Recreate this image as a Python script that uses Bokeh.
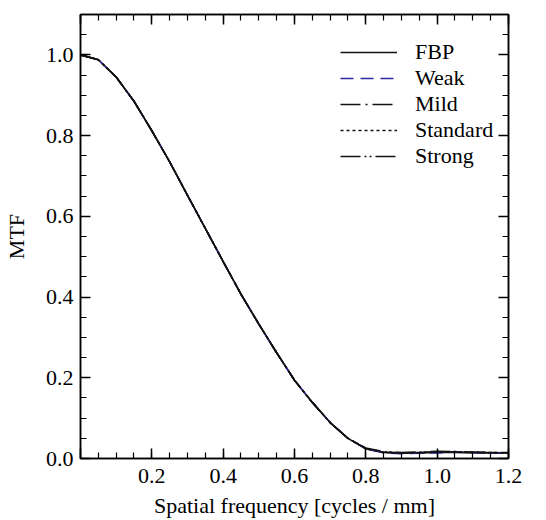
from bokeh.plotting import figure
from bokeh.models import (LinearAxis, SingleIntervalTicker, Legend, LegendItem, Range1d,
                          PrintfTickFormatter, CustomJSTickFormatter)
from bokeh.embed import file_html
from bokeh.resources import INLINE

# ---- data ----
freq = [0.00, 0.05, 0.10, 0.15, 0.20, 0.25, 0.30, 0.35, 0.40, 0.45, 0.50, 0.55,
        0.60, 0.65, 0.70, 0.75, 0.80, 0.85, 0.90, 0.95, 1.00, 1.05, 1.10, 1.15, 1.20]
mtf_fbp = [1.000, 0.988, 0.945, 0.885, 0.812, 0.735, 0.652, 0.570, 0.488, 0.407, 0.333, 0.262,
           0.194, 0.139, 0.089, 0.050, 0.024, 0.015, 0.013, 0.014, 0.015, 0.015, 0.014, 0.014, 0.014]
mtf_weak = [1.000, 0.988, 0.945, 0.885, 0.812, 0.735, 0.652, 0.570, 0.488, 0.407, 0.333, 0.262,
            0.194, 0.139, 0.089, 0.050, 0.024, 0.014, 0.012, 0.013, 0.014, 0.016, 0.015, 0.013, 0.013]
mtf_mild = [1.000, 0.988, 0.945, 0.885, 0.812, 0.735, 0.652, 0.570, 0.488, 0.407, 0.333, 0.262,
            0.194, 0.139, 0.089, 0.050, 0.025, 0.016, 0.014, 0.015, 0.017, 0.016, 0.015, 0.015, 0.014]
mtf_standard = [1.000, 0.988, 0.945, 0.885, 0.812, 0.735, 0.652, 0.570, 0.488, 0.407, 0.333, 0.262,
                0.194, 0.139, 0.089, 0.050, 0.024, 0.015, 0.013, 0.014, 0.016, 0.017, 0.016, 0.014, 0.013]
mtf_strong = [1.000, 0.988, 0.945, 0.885, 0.812, 0.735, 0.652, 0.570, 0.488, 0.407, 0.333, 0.262,
              0.194, 0.139, 0.089, 0.050, 0.026, 0.017, 0.015, 0.016, 0.018, 0.017, 0.016, 0.015, 0.015]
series_names = ["FBP", "Weak", "Mild", "Standard", "Strong"]

FONT = "'Liberation Serif', 'Times New Roman', serif"
FS = "22px"

p = figure(width=546, height=520, output_backend="svg", toolbar_location=None,
           x_range=Range1d(0, 1.2001), y_range=Range1d(0, 1.1),
           min_border_left=80, min_border_right=38, min_border_top=14, min_border_bottom=61,
           x_axis_label="Spatial frequency [cycles / mm]", y_axis_label="MTF")
p.background_fill_color = "white"
p.border_fill_color = "white"
p.grid.visible = False
p.outline_line_color = "black"
p.outline_line_width = 1.5

styles = [
    ("solid", "#111111"),
    ("13 7", "#2b2b9f"),
    ("20 5 2 5", "#111111"),
    ("3 3", "#111111"),
    ("20 4 2 3 2 4", "#111111"),
]
ys = [mtf_fbp, mtf_weak, mtf_mild, mtf_standard, mtf_strong]
renderers = []
for name, yv, (dash, col) in zip(series_names, ys, styles):
    r = p.line(freq, yv, line_color=col, line_width=1.6, line_dash=dash)
    renderers.append(r)

def style_axis(ax):
    ax.axis_line_color = "black"
    ax.axis_line_width = 1.5
    ax.major_tick_line_color = "black"
    ax.major_tick_line_width = 1.5
    ax.minor_tick_line_color = "black"
    ax.minor_tick_line_width = 1.2
    ax.major_tick_in = 10
    ax.major_tick_out = 0
    ax.minor_tick_in = 6
    ax.minor_tick_out = 0
    ax.major_label_text_font = FONT
    ax.major_label_text_font_size = FS
    ax.major_label_text_color = "black"
    ax.axis_label_text_font = FONT
    ax.axis_label_text_font_size = FS
    ax.axis_label_text_font_style = "normal"
    ax.axis_label_text_color = "black"

xa = p.xaxis[0]
xa.ticker = SingleIntervalTicker(interval=0.2, num_minor_ticks=4)
style_axis(xa)
xa.formatter = PrintfTickFormatter(format="%.1f")
xa.major_label_overrides = {0: ""}
xa.major_label_standoff = 10
xa.axis_label_standoff = 7

ya = p.yaxis[0]
ya.ticker = SingleIntervalTicker(interval=0.2, num_minor_ticks=4)
style_axis(ya)
ya.formatter = PrintfTickFormatter(format="%.1f")
ya.major_label_standoff = 7
ya.axis_label_standoff = 14

blank = CustomJSTickFormatter(code="return ''")
top = LinearAxis(ticker=SingleIntervalTicker(interval=0.2, num_minor_ticks=4), formatter=blank)
style_axis(top)
top.major_label_standoff = 0
p.add_layout(top, "above")

right = LinearAxis(ticker=SingleIntervalTicker(interval=0.2, num_minor_ticks=4), formatter=blank)
style_axis(right)
right.major_label_standoff = 0
p.add_layout(right, "right")

legend = Legend(items=[LegendItem(label=n, renderers=[r]) for n, r in zip(series_names, renderers)],
                location=(260, 289))
legend.border_line_color = None
legend.background_fill_alpha = 0
legend.label_text_font = FONT
legend.label_text_font_size = FS
legend.label_text_color = "black"
legend.glyph_width = 57
legend.glyph_height = 20
legend.label_height = 20
legend.spacing = -3
legend.label_standoff = 18
legend.padding = 5
legend.margin = 0
p.add_layout(legend, "center")

open("out.html", "w").write(file_html(p, INLINE))
